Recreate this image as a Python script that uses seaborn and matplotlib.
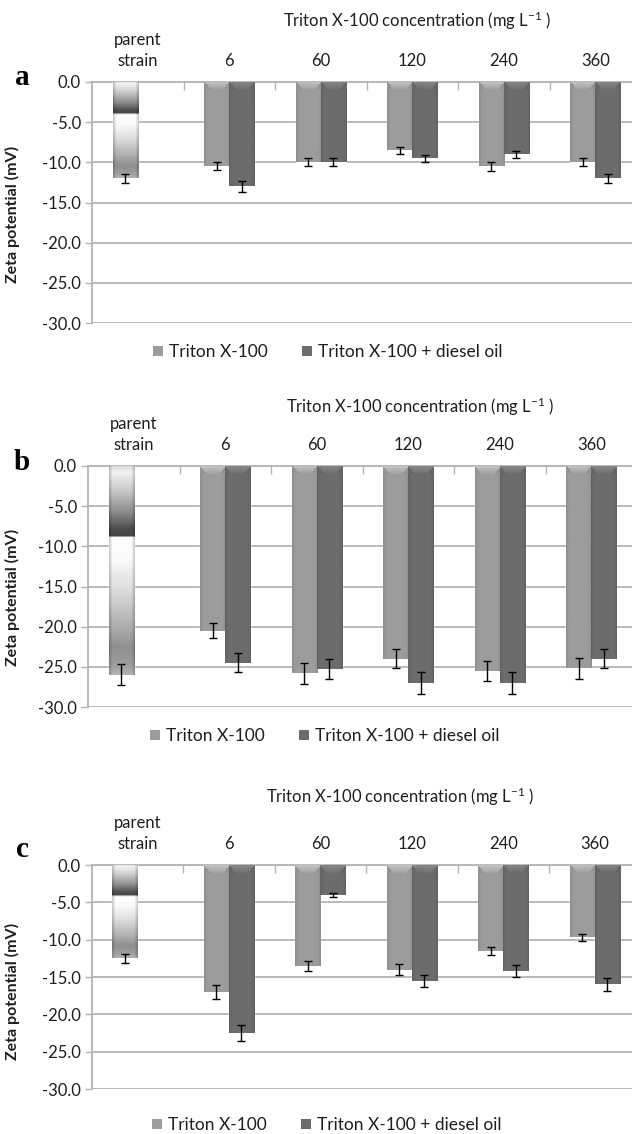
import numpy as np
import pandas as pd
import matplotlib
matplotlib.use("Agg")
import matplotlib.pyplot as plt
import seaborn as sns
from matplotlib.patches import Patch
from matplotlib.ticker import FixedLocator, NullFormatter

# ---------------- data ----------------
categories = ["parent\nstrain", "6", "60", "120", "240", "360"]
series = ["Triton X-100", "Triton X-100 + diesel oil"]

a_tx = [-12.0, -10.5, -10.0, -8.5, -10.5, -10.0]
a_txd = [np.nan, -13.0, -10.0, -9.5, -9.0, -12.0]
a_tx_err = [0.6, 0.5, 0.5, 0.45, 0.55, 0.5]
a_txd_err = [np.nan, 0.65, 0.5, 0.47, 0.45, 0.6]

b_tx = [-26.0, -20.5, -25.8, -24.0, -25.5, -25.2]
b_txd = [np.nan, -24.5, -25.3, -27.0, -27.0, -24.0]
b_tx_err = [1.3, 0.9, 1.3, 1.2, 1.25, 1.3]
b_txd_err = [np.nan, 1.2, 1.25, 1.35, 1.35, 1.2]

c_tx = [-12.5, -17.0, -13.5, -14.0, -11.5, -9.7]
c_txd = [np.nan, -22.5, -4.0, -15.5, -14.2, -16.0]
c_tx_err = [0.6, 0.9, 0.67, 0.7, 0.55, 0.45]
c_txd_err = [np.nan, 1.1, 0.25, 0.8, 0.75, 0.85]

panel_letters = ["a", "b", "c"]
x_title = r"Triton X-100 concentration (mg L$^{-1}$ )"
y_title = "Zeta potential (mV)"
y_ticks = [0.0, -5.0, -10.0, -15.0, -20.0, -25.0, -30.0]

# ---------------- style ----------------
sns.set_theme(style="white")
plt.rcParams["font.family"] = ["Lato", "DejaVu Sans"]
plt.rcParams["axes.unicode_minus"] = False
plt.rcParams["mathtext.fontset"] = "custom"
plt.rcParams["mathtext.rm"] = "Lato"
plt.rcParams["mathtext.it"] = "Lato:italic"
plt.rcParams["mathtext.bf"] = "Lato:bold"

W, H = 632, 1134
fig = plt.figure(figsize=(W / 100, H / 100), dpi=100)
fig.patch.set_facecolor("white")

GRID = "#b4b4b4"
TEXT = "#1e1e1e"
C_TX = np.array([0x9c, 0x9c, 0x9c]) / 255.0
C_TXD = np.array([0x6c, 0x6c, 0x6c]) / 255.0
CAT_PX = 91.5

layout = [
    dict(left=92, top=82, bottom=323, title=(417, 21), legend=(328, 352), ylab=214, letter=85),
    dict(left=88, top=466, bottom=707, title=(420, 407), legend=(325, 736), ylab=597, letter=470),
    dict(left=91.5, top=865, bottom=1089, title=(400, 797), legend=(327, 1125), ylab=991, letter=857),
]
panel_data = [
    (a_tx, a_txd, a_tx_err, a_txd_err),
    (b_tx, b_txd, b_tx_err, b_txd_err),
    (c_tx, c_txd, c_tx_err, c_txd_err),
]


def bar_image(wpx, hpx, base, kind):
    cols = np.arange(wpx)[None, :] + 0.5
    rows = np.arange(hpx)[:, None] + 0.5
    dside = np.minimum(cols, wpx - cols)
    if kind == "parent":
        f = rows / hpx
        kp = [0.0, 0.03, 0.12, 0.22, 0.30, 0.335, 0.34, 0.45, 0.60, 0.75, 0.87, 0.95, 1.0]
        kv = [0.86, 0.95, 0.78, 0.55, 0.30, 0.27, 1.0, 0.98, 0.86, 0.70, 0.56, 0.62, 0.70]
        lum = np.interp(f, kp, kv) * np.ones_like(cols)
        edge = np.clip(1 - dside / 3.5, 0, 1)
        lum = lum * (1 - 0.22 * edge)
        rgb = np.repeat(lum[:, :, None], 3, axis=2)
    else:
        F = np.ones((hpx, wpx))
        edge = np.clip(1 - dside / 3.0, 0, 1)
        F = F * (1 - 0.10 * edge)
        bevel = 8.0
        top = rows < bevel
        cap = top & (dside >= rows * 0.8)
        F = np.where(cap, 1.26 - 0.22 * (rows / bevel), F)
        F = np.where(top & ~cap, 0.95, F)
        rgb = np.clip(base[None, None, :] * F[:, :, None], 0, 1)
    return rgb


for i, (lay, (tx, txd, txe, txde)) in enumerate(zip(layout, panel_data)):
    left, top, bottom = lay["left"], lay["top"], lay["bottom"]
    ax = fig.add_axes([left / W, 1 - bottom / H, (W - left) / W, (bottom - top) / H])

    df = pd.DataFrame({
        "category": categories * 2,
        "series": [series[0]] * len(categories) + [series[1]] * len(categories),
        "value": list(tx) + list(txd),
        "err": list(txe) + list(txde),
    }).dropna()

    sns.barplot(data=df, x="category", y="value", hue="series", order=categories,
                hue_order=series, palette=[tuple(C_TX), tuple(C_TXD)], width=0.55,
                errorbar=None, saturation=1, legend=False, ax=ax, zorder=3)

    xmax = -0.5 + (W - left) / CAT_PX
    ax.set_xlim(-0.5, xmax)
    ax.set_ylim(-30, 0)

    err_lookup = {(s, c): e for s, c, e in zip(df["series"], df["category"], df["err"])}
    bar_containers = list(ax.containers)
    for si, cont in enumerate(bar_containers):
        s = series[si]
        for patch in list(cont.patches):
            x0 = patch.get_x()
            w = patch.get_width()
            h = patch.get_height()
            if not np.isfinite(h):
                continue
            cx = x0 + w / 2
            ci = int(round(cx))
            c = categories[ci]
            kind = "parent" if ci == 0 else "normal"
            p0 = ax.transData.transform((x0, 0))
            p1 = ax.transData.transform((x0 + w, h))
            wpx = max(int(round(abs(p1[0] - p0[0]))), 2)
            hpx = max(int(round(abs(p1[1] - p0[1]))), 2)
            img = bar_image(wpx, hpx, C_TX if si == 0 else C_TXD, kind)
            im = ax.imshow(img, extent=(x0, x0 + w, h, 0), origin="upper", aspect="auto",
                           interpolation="bilinear", zorder=3.5)
            im.set_clip_path(patch)
            e = err_lookup[(s, c)]
            ax.errorbar(cx, h, yerr=e, fmt="none", ecolor="black", elinewidth=1.0,
                        capsize=3.2, capthick=1.0, zorder=6)

    ax.set_xlim(-0.5, xmax)
    ax.set_ylim(-30, 0)

    ax.xaxis.tick_top()
    ax.xaxis.set_label_position("top")
    ax.set_xlabel("")
    ax.set_ylabel("")
    ax.set_xticks(range(len(categories)))
    ax.set_xticklabels(categories, fontsize=12, color=TEXT)
    for lbl in ax.get_xticklabels():
        lbl.set_linespacing(1.35)
    ax.xaxis.set_minor_locator(FixedLocator([k + 0.5 for k in range(len(categories) - 1)]))
    ax.xaxis.set_minor_formatter(NullFormatter())
    ax.tick_params(axis="x", which="major", length=0, pad=9.5, top=True, bottom=False)
    ax.tick_params(axis="x", which="minor", length=6, width=1.0, color=GRID,
                   direction="in", top=True, bottom=False)

    ax.yaxis.set_major_locator(FixedLocator(y_ticks))
    ax.set_yticklabels([f"{v:.1f}" for v in y_ticks], fontsize=12, color=TEXT)
    ax.tick_params(axis="y", which="major", length=5, width=1.0, color=GRID,
                   direction="out", left=True, pad=3)
    ax.yaxis.grid(True, color=GRID, linewidth=1.3, zorder=0)
    ax.xaxis.grid(False)
    ax.set_axisbelow(True)
    for side in ["right", "bottom"]:
        ax.spines[side].set_visible(False)
    for side in ["left", "top"]:
        ax.spines[side].set_visible(True)
        ax.spines[side].set_color(GRID)
        ax.spines[side].set_linewidth(1.3)
    ax.set_facecolor("white")

    tx_, ty_ = lay["title"]
    fig.text(tx_ / W, 1 - ty_ / H, x_title, ha="center", va="center", fontsize=12, color=TEXT)
    fig.text(12.5 / W, 1 - lay["ylab"] / H, y_title, rotation=90, ha="center", va="center",
             fontsize=11.5, fontweight="bold", color=TEXT)
    fig.text(22 / W, 1 - lay["letter"] / H, panel_letters[i], ha="center", va="baseline",
             fontsize=21, fontweight="bold", family="Liberation Serif", color="black")

    handles = [Patch(facecolor=tuple(C_TX), edgecolor="none"),
               Patch(facecolor=tuple(C_TXD), edgecolor="none")]
    lx, ly = lay["legend"]
    fig.legend(handles, series, loc="center", bbox_to_anchor=(lx / W, 1 - ly / H),
               bbox_transform=fig.transFigure, ncol=2, frameon=False, fontsize=12.5,
               handlelength=0.55, handleheight=0.55, handletextpad=0.35,
               columnspacing=2.0, labelcolor=TEXT)

fig.savefig("out.png", dpi=100, facecolor="white")
